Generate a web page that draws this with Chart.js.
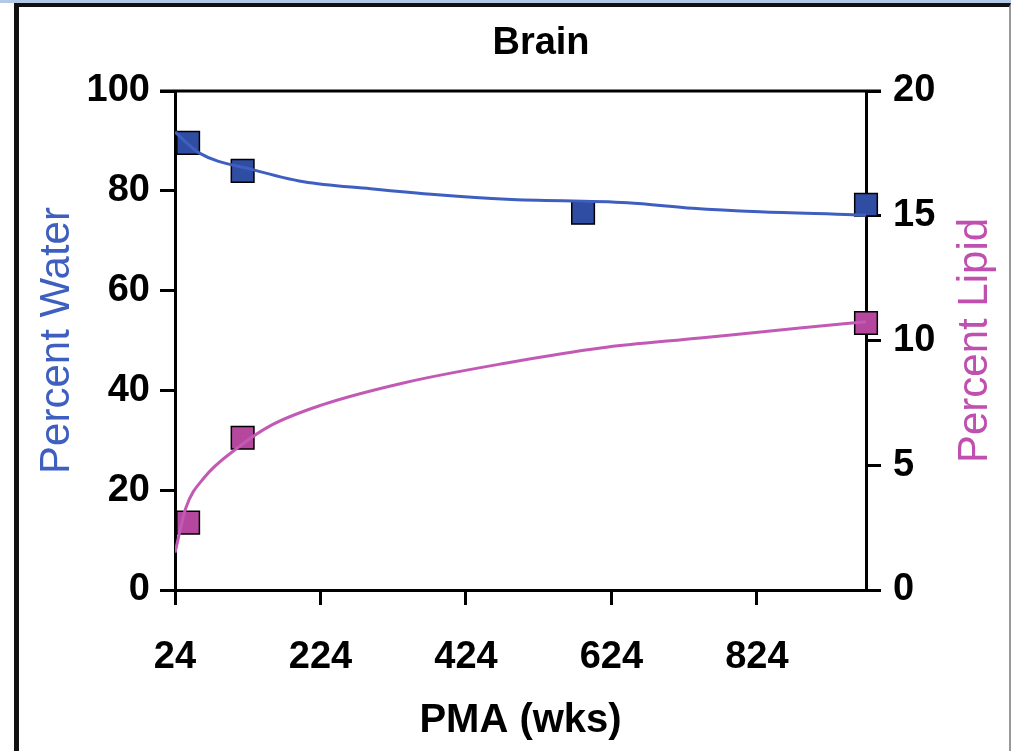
<!DOCTYPE html>
<html>
<head>
<meta charset="utf-8">
<script src="https://cdn.jsdelivr.net/npm/chart.js@4"></script>
<style>
  html, body { margin: 0; padding: 0; background: #fff; }
  body { width: 1011px; height: 751px; position: relative; overflow: hidden; }
  #strip { position: absolute; left: 0; top: 0; width: 1011px; height: 3px; background: #b4c9e6; }
  #frame { position: absolute; left: 14px; top: 3px; width: 990px; height: 744px;
           border-left: 5px solid #111; border-top: 4px solid #111;
           border-right: 2px solid #999; border-bottom: 2px solid #ccc; }
  #wrap { position: absolute; left: 0; top: 0; width: 1011px; height: 751px; }
</style>
</head>
<body>
<div id="strip"></div>
<div id="frame"></div>
<div id="wrap"><canvas id="brainChart"></canvas></div>
<script>
// measured points
const pmaWater = [42, 117, 585, 974];
const water = [89.6, 84.0, 75.6, 77.2];
const pmaLipid = [42, 117, 974];
const lipid = [2.7, 6.1, 10.7];

// trend curves
const waterFitPma = [24, 57, 132, 201, 293, 385, 480, 646, 736, 828, 956, 974];
const waterFit = [91.8, 87.6, 84.2, 81.8, 80.4, 79.2, 78.3, 77.6, 76.5, 75.8, 75.2, 75.1];
const lipidFitPma = [24, 39, 64, 110, 156, 224, 338, 480, 609, 746, 883, 974];
const lipidFit = [1.5, 3.3, 4.5, 5.7, 6.6, 7.4, 8.3, 9.1, 9.7, 10.1, 10.5, 10.75];

const xTicks = [24, 224, 424, 624, 824];

const BLUE = '#2f4ea3';
const BLUE_LINE = '#3f5fc0';
const PINK = '#b5479f';
const PINK_LINE = '#c25ab5';
const FONT = "'Liberation Sans', Arial, sans-serif";

const pts = (xs, ys) => xs.map((x, i) => ({ x: x, y: ys[i] }));

// plot box top edge, chart title and the right axis title (reads bottom to top)
const extras = {
  id: 'extras',
  afterDraw(chart) {
    const { ctx, chartArea } = chart;
    ctx.save();
    ctx.strokeStyle = '#000';
    ctx.lineWidth = 3;
    ctx.beginPath();
    ctx.moveTo(chartArea.left - 15, chartArea.top);
    ctx.lineTo(chartArea.right + 15, chartArea.top);
    ctx.stroke();

    ctx.fillStyle = '#000';
    ctx.font = `bold 38px ${FONT}`;
    ctx.textAlign = 'center';
    ctx.textBaseline = 'middle';
    ctx.fillText('Brain', 541, 44);

    ctx.translate(975, (chartArea.top + chartArea.bottom) / 2);
    ctx.rotate(-Math.PI / 2);
    ctx.fillStyle = '#c050b0';
    ctx.font = `42px ${FONT}`;
    ctx.fillText('Percent Lipid', 0, 0);
    ctx.restore();
  }
};

const tickFont = { family: FONT, size: 38, weight: 'bold' };

new Chart(document.getElementById('brainChart'), {
  type: 'scatter',
  data: {
    datasets: [
      {
        label: 'water fit',
        data: pts(waterFitPma, waterFit),
        showLine: true,
        borderColor: BLUE_LINE,
        borderWidth: 3,
        pointRadius: 0,
        cubicInterpolationMode: 'monotone',
        yAxisID: 'y'
      },
      {
        label: 'lipid fit',
        data: pts(lipidFitPma, lipidFit),
        showLine: true,
        borderColor: PINK_LINE,
        borderWidth: 3,
        pointRadius: 0,
        cubicInterpolationMode: 'monotone',
        yAxisID: 'y1'
      },
      {
        label: 'Percent Water',
        data: pts(pmaWater, water),
        pointStyle: 'rect',
        pointRadius: 16,
        backgroundColor: BLUE,
        borderColor: '#000',
        borderWidth: 1.5,
        clip: false,
        yAxisID: 'y'
      },
      {
        label: 'Percent Lipid',
        data: pts(pmaLipid, lipid),
        pointStyle: 'rect',
        pointRadius: 16,
        backgroundColor: PINK,
        borderColor: '#000',
        borderWidth: 1.5,
        clip: false,
        yAxisID: 'y1'
      }
    ]
  },
  options: {
    responsive: true,
    maintainAspectRatio: false,
    animation: false,
    layout: { padding: { top: 91 } },
    plugins: {
      legend: { display: false },
      tooltip: { enabled: false },
      title: { display: false }
    },
    scales: {
      x: {
        type: 'linear',
        min: 24,
        max: 974,
        afterBuildTicks: (s) => { s.ticks = xTicks.map(v => ({ value: v })); },
        afterFit: (s) => { s.height = 161; },
        ticks: { color: '#000', font: tickFont, padding: 30, maxRotation: 0, autoSkip: false },
        grid: { drawOnChartArea: false, tickLength: 15, color: '#000', lineWidth: 3 },
        border: { color: '#000', width: 3 },
        title: {
          display: true,
          text: 'PMA (wks)',
          color: '#000',
          font: { family: FONT, size: 40, weight: 'bold', lineHeight: 1.2 },
          padding: { top: 0, bottom: 6 }
        }
      },
      y: {
        position: 'left',
        min: 0,
        max: 100,
        afterFit: (s) => { s.width = 175; },
        ticks: { stepSize: 20, color: '#000', font: tickFont, padding: 10 },
        grid: { drawOnChartArea: false, tickLength: 15, color: '#000', lineWidth: 3 },
        border: { color: '#000', width: 3 },
        title: {
          display: true,
          text: 'Percent Water',
          color: '#3f5fc0',
          font: { family: FONT, size: 42, lineHeight: 1.2 },
          padding: { top: 32, bottom: 0 }
        }
      },
      y1: {
        position: 'right',
        min: 0,
        max: 20,
        afterFit: (s) => { s.width = 145; },
        ticks: { stepSize: 5, color: '#000', font: tickFont, padding: 12 },
        grid: { drawOnChartArea: false, tickLength: 15, color: '#000', lineWidth: 3 },
        border: { color: '#000', width: 3 },
        title: { display: false }
      }
    }
  },
  plugins: [extras]
});
</script>
</body>
</html>
